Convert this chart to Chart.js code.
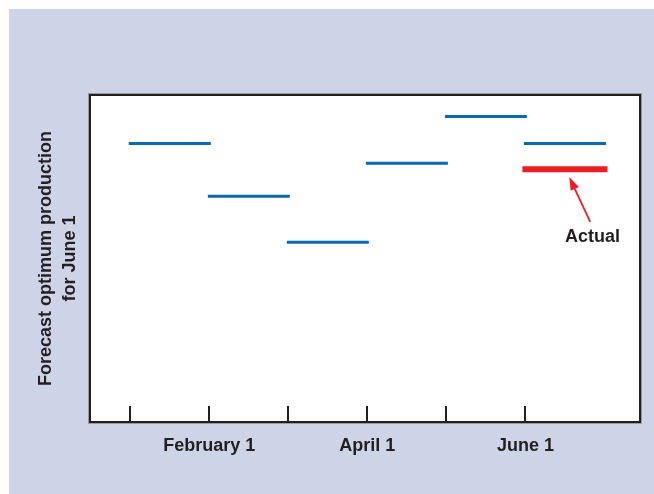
<!DOCTYPE html>
<html>
<head>
<meta charset="utf-8">
<script src="https://cdn.jsdelivr.net/npm/chart.js@4.4.1/dist/chart.umd.min.js"></script>
<style>
  html, body { margin: 0; padding: 0; background: #ffffff; }
  canvas { display: block; }
</style>
</head>
<body>
<canvas id="chart" width="654" height="494"></canvas>
<script>
// Month index: 0 = January 1, 1 = February 1, ...
const monthTicks = [0, 1, 2, 3, 4, 5];
const monthLabels = ['', 'February 1', '', 'April 1', '', 'June 1'];

// Each forecast of June 1 production holds for one month
const forecastStart = [0, 1, 2, 3, 4, 5];
const forecastValue = [85.2, 69.0, 55.0, 79.1, 93.4, 85.2];

// Realised production for June 1
const actualStart = 5;
const actualValue = 77.3;

// Callout pointing at the actual value (data units)
const calloutTail = { x: 5.82, y: 61.2 };
const calloutTip = { x: 5.555, y: 74.9 };
const calloutText = { x: 5.85, y: 56.7, text: 'Actual' };

const INK = '#231f20';
const BLUE = '#0a69b4';
const RED = '#ed1c24';
const PANEL = '#cdd4e7';
const FONT = "'Liberation Sans', Arial, sans-serif";

const segment = (start, value) => [{ x: start, y: value }, { x: start + 1, y: value }];

const datasets = forecastStart.map((s, i) => ({
  data: segment(s, forecastValue[i]),
  borderColor: BLUE,
  borderWidth: 3,
  borderCapStyle: 'square',
  pointRadius: 0
}));
datasets.push({
  data: segment(actualStart, actualValue),
  borderColor: RED,
  borderWidth: 6,
  borderCapStyle: 'square',
  pointRadius: 0
});

const decor = {
  id: 'decor',
  beforeDraw(chart) {
    const { ctx, chartArea: a, width, height } = chart;
    ctx.save();
    ctx.fillStyle = '#ffffff';
    ctx.fillRect(0, 0, width, height);
    ctx.fillStyle = PANEL;
    ctx.fillRect(9, 9, width - 9, height - 9);
    ctx.fillStyle = '#ffffff';
    ctx.fillRect(a.left, a.top, a.right - a.left, a.bottom - a.top);
    ctx.restore();
  },
  afterDraw(chart) {
    const { ctx, chartArea: a, scales: { x, y } } = chart;
    ctx.save();

    // month tick marks rising from the bottom edge
    ctx.strokeStyle = INK;
    ctx.lineWidth = 2;
    monthTicks.forEach(m => {
      const px = Math.round(x.getPixelForValue(m));
      ctx.beginPath();
      ctx.moveTo(px, a.bottom);
      ctx.lineTo(px, a.bottom - 16);
      ctx.stroke();
    });

    // plot frame
    ctx.strokeStyle = '#9a9a9a';
    ctx.lineWidth = 1;
    ctx.strokeRect(a.left - 1.5, a.top - 1.5, a.right - a.left + 3, a.bottom - a.top + 3);
    ctx.strokeStyle = INK;
    ctx.lineWidth = 2;
    ctx.strokeRect(a.left, a.top, a.right - a.left, a.bottom - a.top);

    // callout arrow
    const tx = x.getPixelForValue(calloutTail.x), ty = y.getPixelForValue(calloutTail.y);
    const hx = x.getPixelForValue(calloutTip.x), hy = y.getPixelForValue(calloutTip.y);
    const ang = Math.atan2(hy - ty, hx - tx);
    const headLen = 13, headHalf = 4.5;
    const bx = hx - headLen * Math.cos(ang), by = hy - headLen * Math.sin(ang);
    ctx.strokeStyle = RED;
    ctx.fillStyle = RED;
    ctx.lineWidth = 1.8;
    ctx.beginPath();
    ctx.moveTo(tx, ty);
    ctx.lineTo(bx, by);
    ctx.stroke();
    ctx.beginPath();
    ctx.moveTo(hx, hy);
    ctx.lineTo(bx + headHalf * Math.sin(ang), by - headHalf * Math.cos(ang));
    ctx.lineTo(bx - headHalf * Math.sin(ang), by + headHalf * Math.cos(ang));
    ctx.closePath();
    ctx.fill();

    // callout text
    ctx.fillStyle = INK;
    ctx.font = 'bold 18px ' + FONT;
    ctx.textAlign = 'center';
    ctx.textBaseline = 'middle';
    ctx.fillText(calloutText.text, x.getPixelForValue(calloutText.x), y.getPixelForValue(calloutText.y));

    ctx.restore();
  }
};

new Chart(document.getElementById('chart'), {
  type: 'line',
  data: { datasets },
  plugins: [decor],
  options: {
    responsive: false,
    animation: false,
    devicePixelRatio: 1,
    layout: { padding: { left: 0, right: 14, top: 95, bottom: 0 } },
    plugins: { legend: { display: false }, tooltip: { enabled: false } },
    scales: {
      x: {
        type: 'linear',
        min: -0.51,
        max: 6.45,
        grid: { display: false },
        border: { display: false },
        afterBuildTicks: s => { s.ticks = monthTicks.map(v => ({ value: v })); },
        afterFit: s => { s.height = 72; },
        ticks: {
          autoSkip: false,
          maxRotation: 0,
          padding: 5,
          color: INK,
          font: { family: FONT, size: 18, weight: 'bold' },
          callback: (v, i) => monthLabels[i]
        }
      },
      y: {
        type: 'linear',
        min: 0,
        max: 100,
        grid: { display: false },
        border: { display: false },
        ticks: { display: false },
        afterFit: s => { s.width = 90; },
        title: {
          display: true,
          text: ['Forecast optimum production', 'for June 1'],
          color: INK,
          font: { family: FONT, size: 18, weight: 'bold', lineHeight: 1.35 },
          padding: { top: 34, bottom: 0 }
        }
      }
    }
  }
});
</script>
</body>
</html>
